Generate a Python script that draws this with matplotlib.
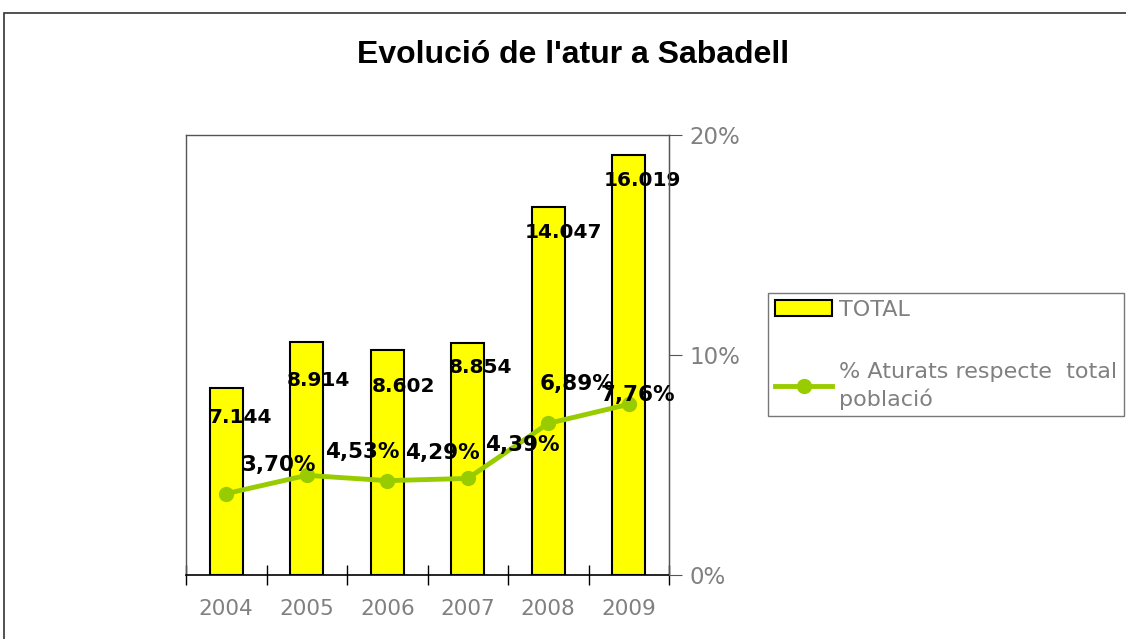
import matplotlib.pyplot as plt
from matplotlib.patches import Rectangle
from matplotlib.lines import Line2D
from matplotlib.patches import Patch

years = ["2004", "2005", "2006", "2007", "2008", "2009"]
total = [7144, 8914, 8602, 8854, 14047, 16019]
total_labels = ["7.144", "8.914", "8.602", "8.854", "14.047", "16.019"]
pct = [3.70, 4.53, 4.29, 4.39, 6.89, 7.76]
pct_labels = ["3,70%", "4,53%", "4,29%", "4,39%", "6,89%", "7,76%"]

# label offsets in pixels (layout only)
bar_lab_off = [(14, -30), (12, -39), (16, -37), (13, -24), (15, -25), (14, -25)]
pct_lab_off = [(53, 29), (56, 23), (55, 28), (55, 33), (29, 39), (9, 9)]

GRAY = "#808080"
FRAME = "#555555"
GREEN = "#99CC00"

fig = plt.figure(figsize=(11.26, 6.39), dpi=100)
fig.patch.set_facecolor("white")

# outer chart frame
fig.patches.append(Rectangle((4 / 1126, -0.1), 1.2, 1 - 13 / 639 + 0.1,
                             transform=fig.transFigure, fill=False,
                             edgecolor="#333333", linewidth=1.2))

ax = fig.add_axes([186 / 1126, 1 - 575 / 639, 483 / 1126, 440 / 639])
x = list(range(len(years)))
ax.bar(x, total, width=0.41, color="#FFFF00", edgecolor="black", linewidth=1.5, zorder=2)
ax.set_xlim(-0.5, len(years) - 0.5)
ax.set_ylim(0, 16800)
ax.set_yticks([])
ax.set_xticks(x)
ax.set_xticklabels(years, color=GRAY, fontsize=15.5)
ax.tick_params(axis="x", which="major", length=0, pad=17)
ax.set_xticks([i - 0.5 for i in range(len(years) + 1)], minor=True)
ax.tick_params(axis="x", which="minor", direction="inout", length=15, width=1, color="black")
for s in ["left", "top", "right"]:
    ax.spines[s].set_color(FRAME)
    ax.spines[s].set_linewidth(1)
ax.spines["bottom"].set_color("black")
ax.spines["bottom"].set_linewidth(1.2)

for xi, v, lab, off in zip(x, total, total_labels, bar_lab_off):
    ax.annotate(lab, (xi, v), xytext=off, textcoords="offset pixels",
                ha="center", va="center", fontsize=14.5, fontweight="bold",
                color="black", zorder=5)

ax2 = ax.twinx()
ax2.plot(x, pct, color=GREEN, linewidth=3.5, marker="o", markersize=10, zorder=3)
ax2.set_ylim(0, 20)
ax2.set_yticks([0, 10, 20])
ax2.set_yticklabels(["0%", "10%", "20%"], color=GRAY, fontsize=16.5)
ax2.tick_params(axis="y", direction="out", length=9, color=FRAME, pad=6)
for s in ["left", "top", "bottom"]:
    ax2.spines[s].set_visible(False)
ax2.spines["right"].set_color(FRAME)

for xi, v, lab, off in zip(x, pct, pct_labels, pct_lab_off):
    ax2.annotate(lab, (xi, v), xytext=off, textcoords="offset pixels",
                 ha="center", va="center", fontsize=15.5, fontweight="bold",
                 color="black", zorder=5)

fig.text(573 / 1126, 1 - 55 / 639, "Evolució de l'atur a Sabadell",
         ha="center", va="center", fontsize=23, fontweight="bold",
         family="Liberation Sans")

handles = [Patch(facecolor="#FFFF00", edgecolor="black", linewidth=1.5),
           Line2D([], [], color=GREEN, linewidth=3.5, marker="o", markersize=10)]
leg = fig.legend(handles, ["TOTAL", "% Aturats respecte  total\npoblació"],
                 loc="upper left", bbox_to_anchor=(768 / 1126, 1 - 293 / 639),
                 fontsize=16, frameon=True, fancybox=False, handlelength=2.6,
                 handletextpad=0.3, labelspacing=1.9, borderpad=0.3,
                 borderaxespad=0)
leg.get_frame().set_edgecolor(FRAME)
leg.get_frame().set_linewidth(1)
for t in leg.get_texts():
    t.set_color(GRAY)
    t.set_linespacing(1.35)

fig.savefig("out.png", dpi=100)
